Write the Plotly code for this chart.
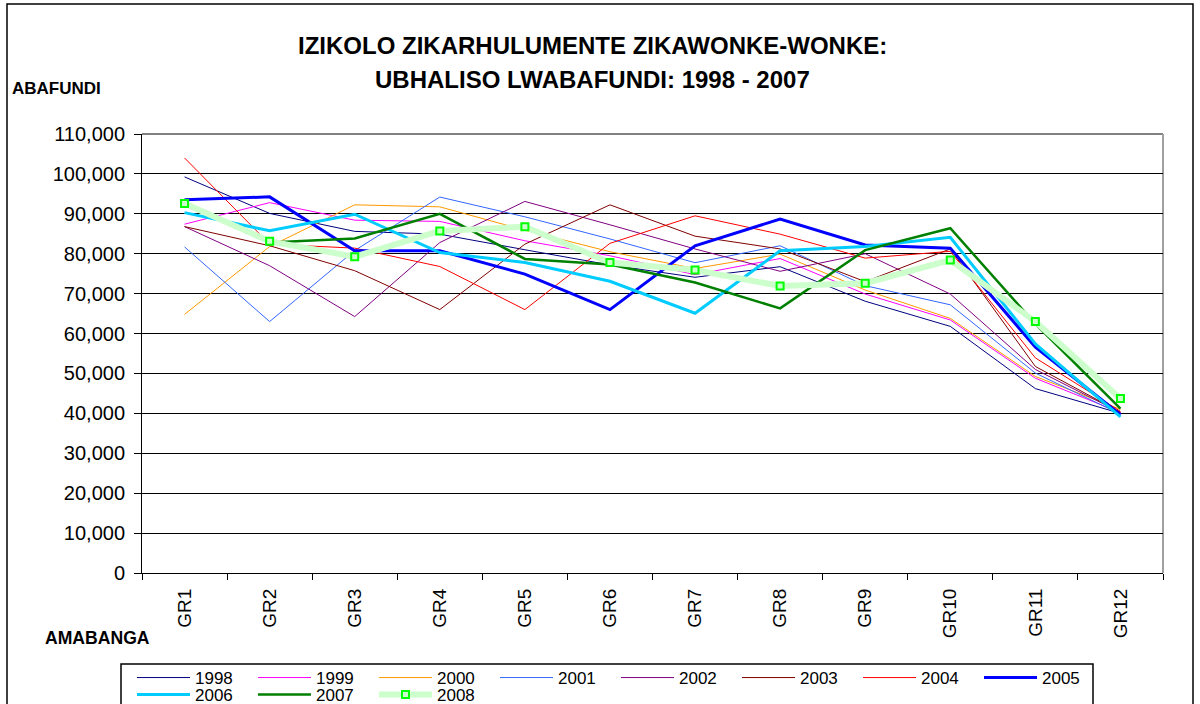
import plotly.graph_objects as go

categories = ["GR1", "GR2", "GR3", "GR4", "GR5", "GR6", "GR7", "GR8", "GR9", "GR10", "GR11", "GR12"]

y1998 = [99250, 90100, 85600, 84900, 81000, 77200, 74100, 76750, 68100, 61800, 46200, 40000]
y1999 = [87400, 92800, 88400, 88100, 83250, 79500, 74750, 78800, 69900, 63400, 48800, 40200]
y2000 = [64800, 81800, 92250, 91750, 85900, 80500, 76300, 79900, 70900, 63800, 49250, 41000]
y2001 = [81700, 63000, 80800, 94200, 89250, 83700, 77750, 82000, 72000, 67200, 50100, 39800]
y2002 = [86800, 77000, 64250, 82800, 93100, 87250, 81200, 75600, 80000, 69900, 51000, 40200]
y2003 = [86800, 82000, 75750, 66000, 82400, 92250, 84400, 81200, 73000, 81200, 51750, 40300]
y2004 = [104000, 82400, 81400, 76800, 66000, 82600, 89500, 84900, 78900, 80600, 53900, 40500]
y2005 = [93500, 94250, 80750, 80750, 74900, 66000, 82000, 88700, 82200, 81400, 56600, 39700]
y2006 = [90300, 85750, 89900, 80300, 77800, 73100, 65100, 80750, 81800, 84100, 57400, 39100]
y2007 = [92400, 82800, 83800, 90000, 78700, 77300, 72800, 66300, 80900, 86400, 62400, 41200]
y2008 = [92600, 83100, 79250, 85700, 86750, 77800, 75900, 71900, 72600, 78400, 63000, 43700]

series_names = ["1998", "1999", "2000", "2001", "2002", "2003", "2004", "2005", "2006", "2007", "2008"]
series_values = [y1998, y1999, y2000, y2001, y2002, y2003, y2004, y2005, y2006, y2007, y2008]
colors = ["#000080", "#FF00FF", "#FF9900", "#3366FF", "#800080", "#800000", "#FF0000",
          "#0000FF", "#00CCFF", "#008000", "#CCFFCC"]
widths = [1, 1, 1, 1, 1, 1, 1, 3, 3, 2.5, 6]

SANS = "Liberation Sans, Arial, sans-serif"

W, H = 1200, 704
L, R, T, B = 142, 1163, 134, 573
def px(x):
    return (x - L) / (R - L)
def py(y):
    return (B - y) / (B - T)

fig = go.Figure()
for i, (name, vals) in enumerate(zip(series_names, series_values)):
    kw = dict(mode="lines")
    if name == "2008":
        kw = dict(mode="lines+markers",
                  marker=dict(symbol="square", size=7, color="#CCFFCC",
                              line=dict(color="#00FF00", width=2)))
    fig.add_trace(go.Scatter(
        x=categories, y=vals, name=name,
        line=dict(color=colors[i], width=widths[i]),
        legend="legend" if i < 8 else "legend2",
        **kw))

leg_common = dict(orientation="h", xanchor="left", yanchor="top",
                  bgcolor="rgba(0,0,0,0)", borderwidth=0,
                  font=dict(family=SANS, size=17, color="black"),
                  itemwidth=53, entrywidth=53, entrywidthmode="pixels", traceorder="normal")

fig.update_layout(
    width=W, height=H,
    margin=dict(l=L, r=W - R, t=T, b=H - B, autoexpand=False),
    paper_bgcolor="white", plot_bgcolor="white",
    showlegend=True,
    xaxis=dict(type="category", showgrid=False, showline=True, linecolor="black", linewidth=1,
               ticks="outside", ticklen=6, tickcolor="black", tickson="boundaries",
               tickangle=-90, ticklabelstandoff=7,
               tickfont=dict(family=SANS, size=19, color="black"),
               range=[-0.5, 11.5], zeroline=False),
    yaxis=dict(range=[0, 110000], dtick=10000, tickformat=",", showgrid=True,
               gridcolor="black", gridwidth=1, showline=True, linecolor="black", linewidth=1,
               ticks="outside", ticklen=7, tickcolor="black", ticklabelstandoff=5,
               tickfont=dict(family=SANS, size=20, color="black"), zeroline=False),
    legend=dict(x=px(132), y=py(660), **leg_common),
    legend2=dict(x=px(132), y=py(677), **leg_common),
    shapes=[
        dict(type="line", xref="paper", yref="paper", x0=0, x1=1, y0=1, y1=1,
             line=dict(color="#808080", width=2), layer="between"),
        dict(type="line", xref="paper", yref="paper", x0=1, x1=1, y0=0, y1=1,
             line=dict(color="#A0A0A0", width=2), layer="between"),
        dict(type="rect", xref="paper", yref="paper", x0=px(121), x1=px(1093),
             y0=py(720), y1=py(664), line=dict(color="black", width=1.5)),
        dict(type="rect", xref="paper", yref="paper", x0=px(7), x1=px(1193),
             y0=py(720), y1=py(4), line=dict(color="black", width=1.5)),
    ],
    annotations=[
        dict(text="<b>IZIKOLO ZIKARHULUMENTE ZIKAWONKE-WONKE:</b>",
             xref="paper", yref="paper", x=px(592), y=py(45), xanchor="center", yanchor="middle",
             showarrow=False, font=dict(family=SANS, size=24, color="black")),
        dict(text="<b>UBHALISO LWABAFUNDI: 1998 - 2007</b>",
             xref="paper", yref="paper", x=px(592), y=py(80), xanchor="center", yanchor="middle",
             showarrow=False, font=dict(family=SANS, size=24, color="black")),
        dict(text="<b>ABAFUNDI</b>", xref="paper", yref="paper", x=px(10), y=py(88),
             xanchor="left", yanchor="middle", showarrow=False,
             font=dict(family=SANS, size=17, color="black")),
        dict(text="<b>AMABANGA</b>", xref="paper", yref="paper", x=px(43), y=py(638),
             xanchor="left", yanchor="middle", showarrow=False,
             font=dict(family=SANS, size=17.6, color="black")),
    ],
)

fig.write_html("out.html", config={"displayModeBar": False},
               post_script="document.body.style.margin='0';")
